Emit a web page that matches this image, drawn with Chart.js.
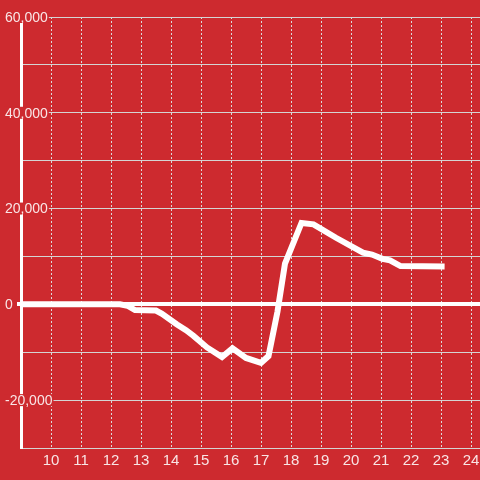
<!DOCTYPE html>
<html>
<head>
<meta charset="utf-8">
<script src="https://cdn.jsdelivr.net/npm/chart.js@4.4.1/dist/chart.umd.min.js"></script>
<style>
  html, body { margin: 0; padding: 0; background: #cd2a2f; }
  #wrap { width: 480px; height: 480px; }
</style>
</head>
<body>
<div id="wrap"><canvas id="c"></canvas></div>
<script>
// valores (hora del día -> valor)
const HOURS = [9, 12.3, 12.55, 12.8, 13.5, 13.7, 14.2, 14.5, 14.75, 15.2, 15.7, 16.05, 16.5, 17.0, 17.25, 17.55, 17.8, 18.35, 18.75, 19.5, 20.4, 20.7, 21.05, 21.3, 21.65, 23.12];
const VALUES = [0, 0, -300, -1200, -1300, -2000, -4200, -5400, -6600, -9000, -11000, -9200, -11200, -12200, -10800, -1500, 8500, 17000, 16700, 13900, 10800, 10400, 9500, 9200, 8000, 7900];
const Y_LABELS = [60000, 40000, 20000, 0, -20000];

const BG = '#cd2a2f';
const TEXT = 'rgba(255,255,255,0.88)';
const HGRID = '#d4d4d4';
const VGRID = '#dcdcdc';
const FONT = '"Liberation Sans", Arial, sans-serif';
const LABEL_X = 5;

// etiquetas del eje Y con fondo, tapan el eje y la rejilla
const yLabels = {
  id: 'yLabels',
  afterDraw(chart) {
    const ctx = chart.ctx;
    const y = chart.scales.y;
    ctx.save();
    ctx.font = '14px ' + FONT;
    ctx.textBaseline = 'middle';
    ctx.textAlign = 'left';
    Y_LABELS.forEach((v) => {
      const txt = v.toLocaleString('en-US');
      const py = y.getPixelForValue(v);
      const w = ctx.measureText(txt).width;
      ctx.fillStyle = BG;
      ctx.fillRect(LABEL_X - 1, py - 6, w + 2, 12);
      ctx.fillStyle = TEXT;
      ctx.fillText(txt, LABEL_X, py + 1);
    });
    ctx.restore();
  },
};

new Chart(document.getElementById('c'), {
  type: 'line',
  data: {
    datasets: [{
      data: HOURS.map((h, i) => ({ x: h, y: VALUES[i] })),
      borderColor: '#ffffff',
      borderWidth: 6,
      pointRadius: 0,
      tension: 0,
      fill: false,
    }],
  },
  options: {
    responsive: true,
    maintainAspectRatio: false,
    animation: false,
    layout: { padding: { left: 21, top: 17, right: 0, bottom: 0 } },
    plugins: { legend: { display: false }, tooltip: { enabled: false } },
    scales: {
      x: {
        type: 'linear',
        min: 9,
        max: 24.3,
        ticks: {
          stepSize: 1,
          includeBounds: false,
          autoSkip: false,
          maxRotation: 0,
          padding: 4,
          color: TEXT,
          font: { size: 15, family: FONT },
          callback: (v) => (v === 9 ? '' : String(v)),
        },
        grid: { color: VGRID, lineWidth: 1, drawTicks: false },
        border: { display: false, dash: [2, 2] },
        afterFit: (s) => { s.height = 32; s.paddingLeft = 0; s.paddingRight = 0; },
      },
      y: {
        min: -30000,
        max: 60000,
        ticks: { display: false, stepSize: 10000 },
        grid: {
          color: (c) => (c.tick && c.tick.value === 0 ? '#ffffff' : HGRID),
          lineWidth: (c) => (c.tick && c.tick.value === 0 ? 4 : 1),
          drawTicks: true,
          tickLength: 4,
          tickWidth: (c) => (c.tick && c.tick.value === 0 ? 4 : 1),
          tickColor: (c) => (c.tick && c.tick.value === 0 ? '#ffffff' : 'rgba(0,0,0,0)'),
        },
        border: { display: true, color: '#ffffff', width: 3 },
        afterFit: (s) => { s.width = 0; },
      },
    },
  },
  plugins: [yLabels],
});
</script>
</body>
</html>
